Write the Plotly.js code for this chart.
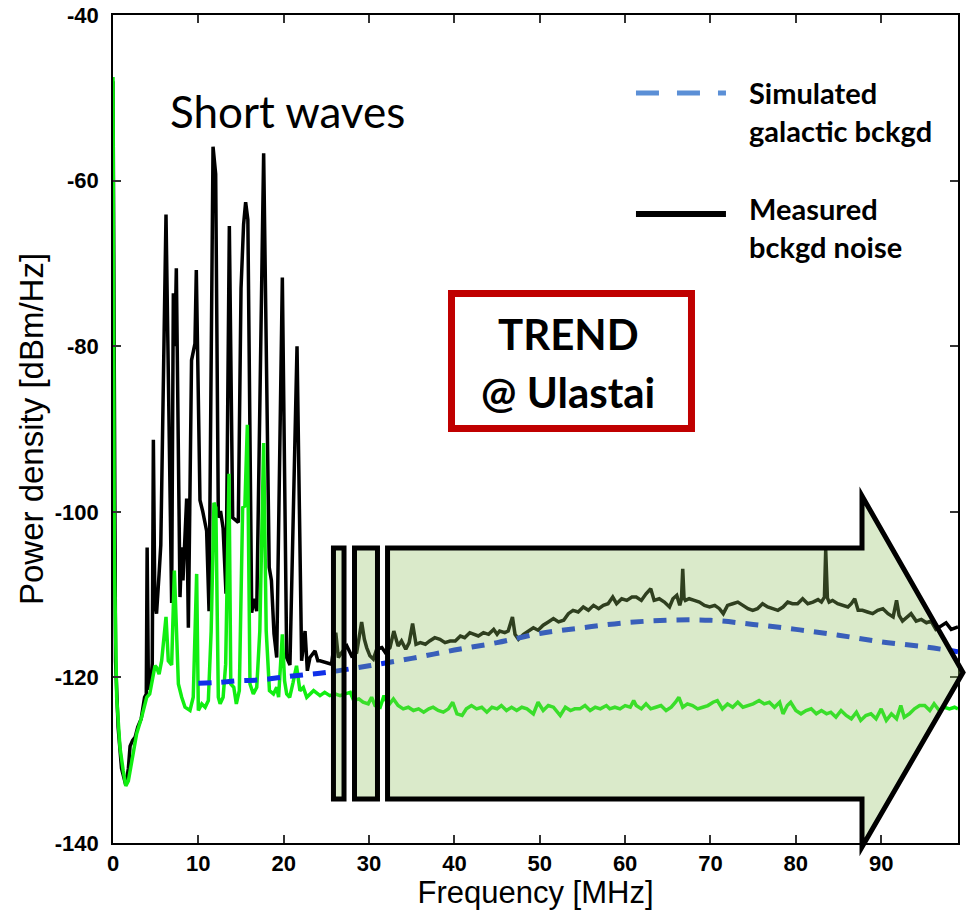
<!DOCTYPE html>
<html><head><meta charset="utf-8">
<script src="https://cdn.plot.ly/plotly-3.0.1.min.js"></script>
<style>html,body{margin:0;padding:0;background:#fff;}#chart{width:966px;height:910px;}</style>
</head><body><div id="chart"></div>
<script>
// Measured background noise (black)
const blackFreq = [0.0,0.3,0.6,1.0,1.5,1.8,2.0,2.3,2.6,2.9,3.3,3.7,3.9,4.0,4.15,4.45,4.6,4.73,4.9,5.1,5.4,5.6,6.21,6.87,7.07,7.25,7.42,7.85,8.05,8.2,8.63,8.83,9.2,9.6,9.76,10.19,10.5,10.97,11.25,11.72,12.03,12.34,12.6,12.9,13.24,13.63,14.02,14.3,14.68,15.0,15.3,15.54,15.8,16.25,16.5,16.84,17.65,18.3,18.56,18.86,19.18,19.84,20.35,20.73,21.56,22.1,22.5,22.77,23.08,23.67,24.0,
24.25,25.0,25.6,26.1,26.4,26.8,27.4,27.96,28.55,29.13,29.45,29.72,30.1,30.5,30.9,31.5,31.9,32.45,32.9,33.4,33.8,34.3,34.7,35.1,35.5,36.0,36.6,37.1,37.7,38.3,38.9,39.5,40.1,40.7,41.2,41.8,42.3,42.8,43.4,44.0,44.6,45.0,45.3,45.9,46.3,46.8,47.1,47.5,48.1,48.7,49.25,49.8,50.4,51.0,51.6,52.2,52.8,53.35,53.9,54.5,55.1,55.7,56.3,56.9,57.45,58.0,58.55,59.0,59.6,60.2,60.8,
61.3,61.9,62.45,63.0,63.4,64.0,64.6,65.2,65.6,66.05,66.4,66.6,66.75,66.9,67.06,67.5,68.1,68.7,69.3,69.9,70.5,71.05,71.5,72.0,72.6,73.2,73.8,74.4,74.95,75.5,76.1,76.7,77.3,77.9,78.5,79.05,79.6,80.2,80.8,81.4,82.0,82.6,83.0,83.35,83.5,83.7,83.9,84.3,84.9,85.5,86.1,86.5,86.9,87.3,87.8,88.4,89.0,89.6,90.2,90.8,91.4,91.8,92.1,92.5,93.1,93.5,94.1,94.7,95.3,95.85,96.4,97.0,97.6,98.2,98.8,99.0];
const blackPower = [-48,-118,-126,-131,-133,-131,-128.3,-127.6,-127.2,-126,-125,-122.4,-122,-104.3,-121.5,-120.5,-118.3,-91.3,-111,-112.3,-107.5,-104,-64.1,-111,-73.6,-80,-70.6,-110.3,-104.3,-108.3,-98.4,-114,-81.7,-79.7,-70.8,-98.6,-99.9,-102.3,-112,-55.9,-59.2,-100.7,-99.9,-102,-109.9,-65.5,-100.7,-101,-101.3,-73,-65.3,-62.6,-64.7,-112.2,-110.5,-112,-56.7,-106.7,-108.3,-114.7,-117.6,-71.7,-117.6,-118.5,-80,-118,-114.4,-119.2,-117.6,-116.8,-118,
-118.0,-118.2,-118.4,-114.6,-117.6,-117.0,-116.2,-117.4,-117.0,-113.3,-115.4,-116.4,-117.4,-117.8,-116.6,-116.4,-117.0,-116.4,-114.4,-116.2,-115.6,-116.6,-115.8,-113.5,-116.0,-115.8,-116.0,-115.6,-115.2,-115.4,-115.8,-115.6,-115.6,-115.0,-115.2,-114.6,-114.8,-115.0,-114.6,-114.8,-114.2,-114.8,-114.4,-114.6,-114.4,-112.7,-114.8,-115.4,-114.8,-114.4,-114.0,-114.3,-113.7,-113.3,-112.9,-113.3,-113.1,-112.3,-111.9,-112.1,-111.5,-111.9,-111.3,-111.7,-111.3,-111.1,-110.3,-111.1,-110.5,-110.7,-110.3,
-110.3,-110.7,-109.9,-109.3,-110.7,-110.5,-110.9,-111.5,-110.5,-110.1,-111.3,-110.5,-106.9,-110.4,-110.7,-110.5,-110.7,-110.9,-111.3,-111.5,-111.3,-111.7,-112.3,-111.3,-111.1,-110.9,-111.3,-111.7,-111.9,-111.7,-111.1,-111.5,-111.7,-111.9,-111.5,-110.9,-111.1,-111.1,-110.5,-111.1,-110.9,-110.6,-110.9,-110.3,-104.6,-110.4,-110.9,-110.7,-111.1,-111.3,-111.5,-111.1,-110.5,-111.9,-111.9,-112.1,-112.3,-111.9,-111.7,-112.3,-112.7,-110.7,-112.5,-113.2,-112.7,-112.3,-113.2,-113.0,-113.4,-113.2,-114.2,-113.8,-113.4,-114.2,-114.0,-113.9];

// Second measured spectrum (green)
const greenFreq = [0.0,0.15,0.43,0.82,1.2,1.5,1.8,2.19,2.77,3.36,3.95,4.3,4.92,5.1,5.4,5.7,6.21,6.48,6.87,7.19,7.4,7.66,8.05,8.44,9.02,9.4,9.8,10.0,10.4,10.8,11.17,11.5,11.83,12.05,12.34,12.55,12.9,13.2,13.59,13.8,14.15,14.45,14.8,15.19,15.45,15.74,16.05,16.44,16.84,17.2,17.65,17.95,18.33,18.8,19.18,19.4,19.84,20.1,20.35,20.7,21.1,21.5,21.9,22.3,22.7,23.1,23.5,24.0,
24.25,24.8,25.4,26.0,26.6,27.2,27.8,28.2,28.8,29.3,29.9,30.3,30.7,31.3,31.75,32.25,32.85,33.4,34.0,34.6,35.2,35.8,36.4,37.0,37.5,38.1,38.7,39.3,39.8,40.3,40.9,41.4,42.0,42.6,43.2,43.8,44.4,45.0,45.5,46.1,46.7,47.3,47.9,48.5,49.25,49.8,50.4,51.0,51.6,52.4,53.0,53.6,54.1,54.7,55.3,55.9,56.5,57.1,57.8,58.2,58.8,59.4,60.0,60.6,61.0,
61.3,61.9,62.45,63.0,63.6,64.2,64.8,65.4,65.9,66.3,66.75,67.3,67.9,68.5,69.1,69.7,70.3,70.8,71.4,72.0,72.6,73.2,73.8,74.4,75.0,75.7,76.3,76.9,77.5,78.1,78.5,79.0,79.4,80.0,80.6,81.2,81.8,82.4,83.0,83.6,84.1,84.7,85.3,85.9,86.5,87.1,87.6,88.2,88.8,89.4,90.0,90.6,91.2,91.8,92.3,92.7,93.3,93.9,94.5,95.1,95.7,96.2,96.8,97.4,98.0,98.6,99.0];
const greenPower = [-47.5,-105,-122.4,-128.5,-131.3,-133.1,-132.5,-130.1,-126.8,-124.8,-122.4,-122,-118.6,-118.8,-119.6,-118,-112.7,-118,-118.5,-107.1,-114.5,-120.8,-122.4,-123.6,-124,-122.4,-107.5,-124,-123.2,-123.6,-122.8,-114.4,-98.9,-99.5,-122.4,-123.2,-122.4,-118.4,-95.4,-120.8,-121.2,-123.2,-121.6,-99.5,-99.3,-89.5,-120.8,-122,-121.2,-114.4,-91.7,-114.4,-121.6,-122,-121.2,-122.4,-114.8,-120.4,-122,-122.4,-120.6,-118.6,-121.6,-121.2,-122.4,-122,-121.6,-122,
-122.2,-121.8,-122.2,-122.0,-122.2,-122.0,-121.8,-122.8,-122.6,-123.0,-123.2,-122.4,-123.4,-123.6,-122.2,-123.4,-122.6,-123.4,-123.8,-123.6,-124.0,-123.8,-124.2,-123.8,-123.6,-124.0,-124.2,-123.8,-123.0,-124.4,-124.6,-123.8,-123.4,-123.8,-123.6,-124.2,-123.6,-123.8,-123.4,-124.0,-123.6,-124.0,-123.6,-123.8,-124.4,-123.0,-124.0,-123.4,-123.6,-124.6,-123.6,-124.0,-123.8,-123.8,-123.4,-124.0,-123.6,-123.8,-123.4,-123.8,-123.6,-123.8,-123.4,-123.6,-122.8,
-123.4,-123.8,-123.2,-123.8,-123.6,-123.4,-124.0,-123.6,-123.0,-122.4,-123.6,-123.2,-123.4,-123.8,-123.6,-123.4,-123.0,-122.8,-123.8,-123.2,-123.6,-123.0,-123.6,-123.4,-123.2,-122.8,-123.2,-123.0,-123.6,-123.0,-124.4,-123.4,-123.0,-124.0,-124.4,-124.0,-123.8,-124.4,-124.0,-124.4,-124.2,-124.8,-124.0,-124.6,-125.0,-124.2,-125.2,-124.6,-124.4,-125.0,-123.8,-125.2,-124.4,-125.0,-123.4,-124.8,-124.4,-123.8,-123.4,-123.4,-124.0,-123.2,-124.0,-123.6,-123.8,-123.6,-123.8];

// Simulated galactic background (blue dashed)
const galFreq  = [10,12.3,14.8,17.3,19.7,22.2,25,30,35,40,45,50,55,60,65,70,75,80,85,90,95,99];
const galPower = [-120.7,-120.6,-120.4,-120.3,-120.0,-119.7,-119.4,-118.6,-117.7,-116.7,-115.8,-114.7,-114.0,-113.4,-113.1,-113.1,-113.6,-114.2,-114.9,-115.7,-116.3,-116.9];

const xTickVals = [0,10,20,30,40,50,60,70,80,90];
const yTickVals = [-140,-120,-100,-80,-60,-40];

const traces = [
  {x: blackFreq, y: blackPower, type:'scatter', mode:'lines', name:'Measured bckgd noise',
   line:{color:'#000000', width:3.5}, showlegend:false},
  {x: greenFreq, y: greenPower, type:'scatter', mode:'lines', name:'Measured (green)',
   line:{color:'#11ee11', width:3.5}, showlegend:false},
  {x: galFreq, y: galPower, type:'scatter', mode:'lines', name:'Simulated galactic bckgd',
   line:{color:'#1030e8', width:5, dash:'13px,10px', shape:'spline'}, showlegend:false}
];

const tickFont = {family:'Liberation Sans, Arial, sans-serif', size:22, color:'#000', weight:'bold'};
const ARROW_FILL = 'rgba(142,190,94,0.33)';

const layout = {
  width:966, height:910,
  margin:{l:113, r:8, t:15, b:67},
  paper_bgcolor:'#ffffff', plot_bgcolor:'#ffffff',
  showlegend:false,
  xaxis:{range:[0,99], tickvals:xTickVals, ticktext:xTickVals.map(String),
    showline:true, linecolor:'#000', linewidth:1.5, mirror:'allticks',
    ticks:'inside', ticklen:8, tickwidth:1.5, tickcolor:'#333',
    showgrid:false, zeroline:false, tickfont:tickFont, ticklabelstandoff:0,
    title:{text:'Frequency [MHz]', font:{family:'Liberation Sans, Arial, sans-serif', size:31, color:'#000'}, standoff:12}},
  yaxis:{range:[-140,-40], tickvals:yTickVals, ticktext:yTickVals.map(String),
    showline:true, linecolor:'#000', linewidth:1.5, mirror:'allticks',
    ticks:'inside', ticklen:8, tickwidth:1.5, tickcolor:'#333',
    showgrid:false, zeroline:false, tickfont:tickFont, ticklabelstandoff:8,
    title:{text:'Power density [dBm/Hz]', font:{family:'Liberation Sans, Arial, sans-serif', size:33, color:'#000'}, standoff:1}},
  shapes:[
    // highlight arrow (overlay)
    {type:'rect', xref:'paper', yref:'paper', x0:0.2609, x1:0.2734, y0:0.0531, y1:0.3563,
     fillcolor:ARROW_FILL, line:{color:'#000', width:5}, layer:'above'},
    {type:'rect', xref:'paper', yref:'paper', x0:0.2858, x1:0.3130, y0:0.0531, y1:0.3563,
     fillcolor:ARROW_FILL, line:{color:'#000', width:5}, layer:'above'},
    {type:'path', xref:'paper', yref:'paper',
     path:'M0.3249,0.3563 L0.8864,0.3563 L0.8864,0.4191 L1.0059,0.2059 L0.8864,-0.0048 L0.8864,0.0531 L0.3249,0.0531 Z',
     fillcolor:ARROW_FILL, line:{color:'#000', width:5}, layer:'above'},
    // TREND box
    {type:'rect', xref:'paper', yref:'paper', x0:0.4006, x1:0.6846, y0:0.5006, y1:0.6636,
     fillcolor:'rgba(255,255,255,0)', line:{color:'#c00000', width:7}, layer:'above'},
    // legend samples
    {type:'line', xref:'paper', yref:'paper', x0:0.6189, x1:0.7254, y0:0.9058, y1:0.9058,
     line:{color:'#5b8fd6', width:5, dash:'23px,18px'}, layer:'above'},
    {type:'line', xref:'paper', yref:'paper', x0:0.6189, x1:0.7254, y0:0.7597, y1:0.7597,
     line:{color:'#000', width:6}, layer:'above'}
  ],
  annotations:[
    {text:'Short waves', xref:'paper', yref:'paper', x:0.0651, y:0.8845, xanchor:'left', yanchor:'middle',
     showarrow:false, font:{family:'Lato, sans-serif', size:44, color:'#000'}},
    {text:'TREND', xref:'paper', yref:'paper', x:0.5385, y:0.6145, xanchor:'center', yanchor:'middle',
     showarrow:false, font:{family:'Lato, sans-serif', size:42, color:'#000', weight:'bold'}},
    {text:'@ Ulastai', xref:'paper', yref:'paper', x:0.5385, y:0.5445, xanchor:'center', yanchor:'middle',
     showarrow:false, font:{family:'Lato, sans-serif', size:42, color:'#000', weight:'bold'}},
    {text:'Simulated<br>galactic bckgd', xref:'paper', yref:'paper', x:0.7503, y:0.8836, xanchor:'left', yanchor:'middle',
     align:'left', showarrow:false, font:{family:'Lato, sans-serif', size:29, color:'#000', weight:'bold'}},
    {text:'Measured<br>bckgd noise', xref:'paper', yref:'paper', x:0.7503, y:0.7438, xanchor:'left', yanchor:'middle',
     align:'left', showarrow:false, font:{family:'Lato, sans-serif', size:29, color:'#000', weight:'bold'}}
  ]
};

Plotly.newPlot('chart', traces, layout, {displayModeBar:false, responsive:false});
</script>
</body></html>
